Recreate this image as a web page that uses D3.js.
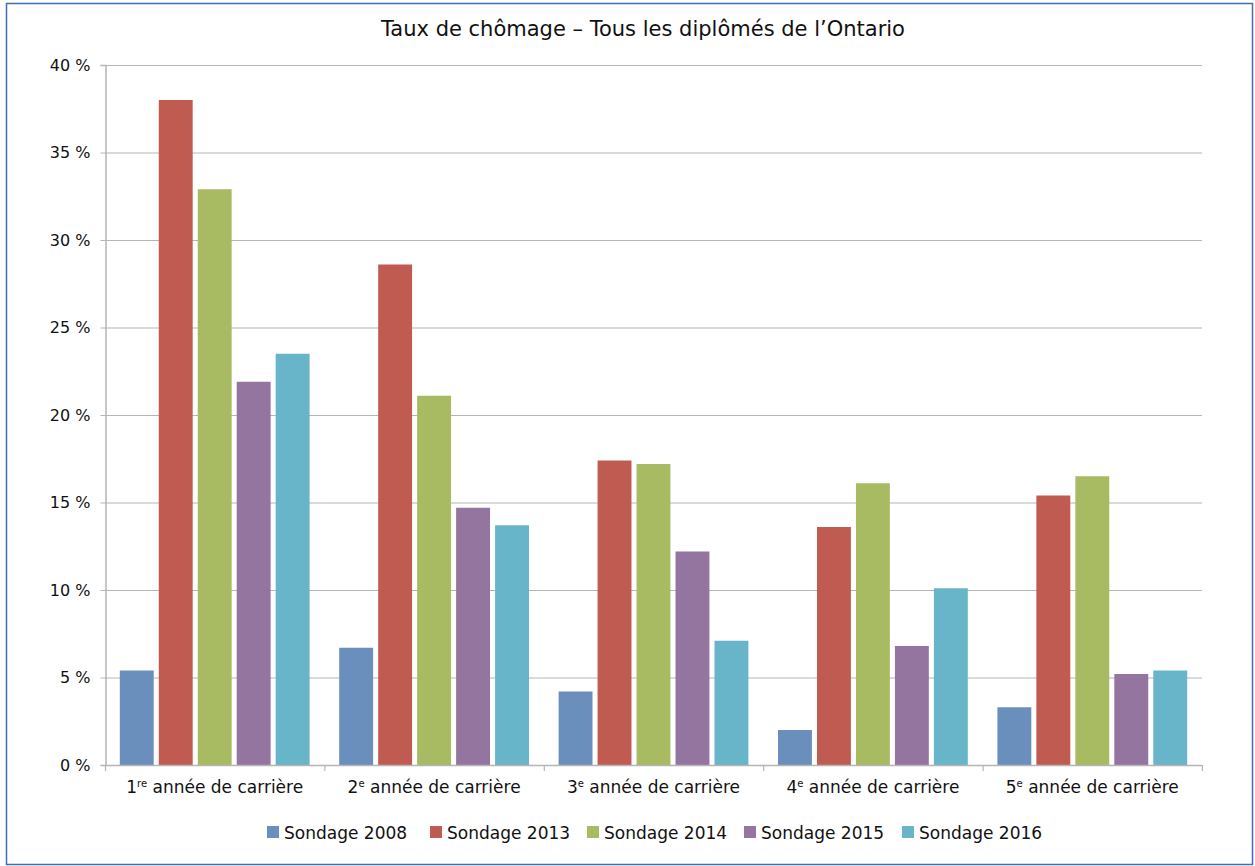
<!DOCTYPE html>
<html><head><meta charset="utf-8">
<script src="https://cdn.jsdelivr.net/npm/d3@7"></script>
<style>body{margin:0;background:#fff}svg{display:block}text{font-family:"DejaVu Sans",sans-serif;fill:#111}</style>
</head><body><svg id="c" width="1255" height="866"></svg>
<script>
const categories = [["1","re"],["2","e"],["3","e"],["4","e"],["5","e"]];
const categorySuffix = " année de carrière";
const seriesNames = ["Sondage 2008","Sondage 2013","Sondage 2014","Sondage 2015","Sondage 2016"];
const s2008 = [5.4, 6.7, 4.2, 2.0, 3.3];
const s2013 = [38.0, 28.6, 17.4, 13.6, 15.4];
const s2014 = [32.9, 21.1, 17.2, 16.1, 16.5];
const s2015 = [21.9, 14.7, 12.2, 6.8, 5.2];
const s2016 = [23.5, 13.7, 7.1, 10.1, 5.4];
const seriesValues = [s2008, s2013, s2014, s2015, s2016];
const colors = ["#6a8fbd","#bf5b50","#a8bb62","#94759f","#68b4c8"];
const yTicks = [0,5,10,15,20,25,30,35,40];
const title = "Taux de chômage – Tous les diplômés de l’Ontario";

const FONT = "'DejaVu Sans', sans-serif";
const svg = d3.select("#c");
svg.append("rect").attr("x",6.5).attr("y",3.5).attr("width",1246).attr("height",861)
  .attr("fill","#fff").attr("stroke","#3d6fb0").attr("stroke-width",1.5);

const L=105, R=1202, T=65, B=765;
const x0 = d3.scaleBand().domain(d3.range(categories.length)).range([L,R]).paddingInner(0).paddingOuter(0);
const x1 = d3.scaleBand().domain(d3.range(seriesNames.length)).range([0,x0.bandwidth()]).paddingInner(0.13).paddingOuter(0.38);
const y = d3.scaleLinear().domain([0,40]).range([B,T]);

// gridlines
svg.append("g").selectAll("line").data(yTicks.filter(d=>d>0)).join("line")
  .attr("x1",L).attr("x2",R).attr("y1",d=>y(d)+0.5).attr("y2",d=>y(d)+0.5)
  .attr("stroke","#b5b5b5").attr("stroke-width",1);

// y axis
const ya = svg.append("g").attr("transform",`translate(${L+0.5},0)`)
  .call(d3.axisLeft(y).tickValues(yTicks).tickSize(5).tickPadding(10).tickFormat(d=>d+" %"));
ya.select(".domain").attr("stroke","#b5b5b5").attr("stroke-width",1.5);
ya.selectAll(".tick line").attr("stroke","#b5b5b5");
ya.selectAll(".tick text").attr("font-size",16).attr("fill","#111").style("font-family",FONT);

// bars
const groups = svg.append("g").selectAll("g").data(categories.map((c,i)=>i)).join("g")
  .attr("transform",i=>`translate(${x0(i)},0)`);
groups.selectAll("rect").data(i=>seriesValues.map((s,k)=>({k,v:s[i]}))).join("rect")
  .attr("x",d=>x1(d.k)).attr("width",x1.bandwidth())
  .attr("y",d=>y(d.v)).attr("height",d=>B-y(d.v)).attr("fill",d=>colors[d.k]);

// x axis
svg.append("line").attr("x1",L).attr("x2",R).attr("y1",B+0.5).attr("y2",B+0.5).attr("stroke","#b5b5b5").attr("stroke-width",1.5);
svg.append("g").selectAll("line").data(d3.range(categories.length+1)).join("line")
  .attr("x1",i=>L+i*x0.bandwidth()+0.5).attr("x2",i=>L+i*x0.bandwidth()+0.5)
  .attr("y1",B).attr("y2",B+6).attr("stroke","#b5b5b5").attr("stroke-width",1.2);
const xl = svg.append("g").selectAll("text").data(categories).join("text")
  .attr("x",(c,i)=>x0(i)+x0.bandwidth()/2).attr("y",793).attr("text-anchor","middle").attr("font-size",17);
xl.append("tspan").text(c=>c[0]);
xl.append("tspan").text(c=>c[1]).attr("font-size",10).attr("dy",-6);
xl.append("tspan").text(categorySuffix).attr("dy",6);

// title
svg.append("text").attr("x",643).attr("y",36).attr("text-anchor","middle").attr("font-size",21).text(title);

// legend
const legX = [267,430,587,744,902];
const lg = svg.append("g").selectAll("g").data(seriesNames).join("g")
  .attr("transform",(d,i)=>`translate(${legX[i]},826)`);
lg.append("rect").attr("width",12).attr("height",12).attr("fill",(d,i)=>colors[i]);
lg.append("text").attr("x",17).attr("y",13).attr("font-size",17).text(d=>d);
</script></body></html>
